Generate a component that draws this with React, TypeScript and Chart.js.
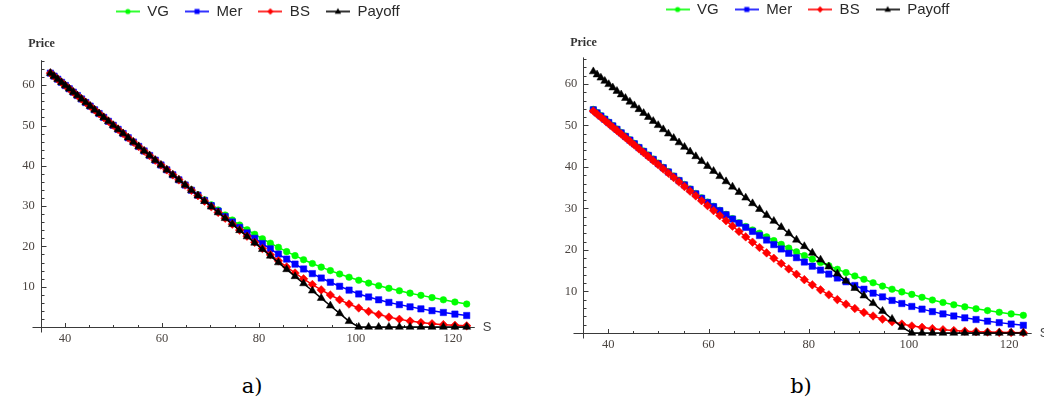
import React, { useEffect, useRef } from "react";
import { Chart, registerables } from "chart.js";

Chart.register(...registerables);

// Underlying prices S (common to both panels)
const S = [
  37.0, 37.75, 38.51, 39.29, 40.08, 40.89, 41.72, 42.56, 43.42, 44.3,
  45.19, 46.11, 47.04, 47.99, 48.96, 49.95, 50.96, 51.99, 53.04, 54.11,
  55.2, 56.32, 57.45, 58.61, 59.8, 61.0, 62.24, 63.49, 64.78, 66.08,
  67.42, 68.78, 70.17, 71.59, 73.03, 74.51, 76.01, 77.55, 79.12, 80.71,
  82.35, 84.01, 85.71, 87.44, 89.2, 91.01, 92.84, 94.72, 96.63, 98.58,
  100.57, 102.61, 104.68, 106.79, 108.95, 111.15, 113.39, 115.68, 118.02, 120.4,
  122.83,
];

// Put payoff (both panels)
const PAYOFF = [
  63.0, 62.25, 61.49, 60.71, 59.92, 59.11, 58.28, 57.44, 56.58, 55.7,
  54.81, 53.89, 52.96, 52.01, 51.04, 50.05, 49.04, 48.01, 46.96, 45.89,
  44.8, 43.68, 42.55, 41.39, 40.2, 39.0, 37.76, 36.51, 35.22, 33.92,
  32.58, 31.22, 29.83, 28.41, 26.97, 25.49, 23.99, 22.45, 20.88, 19.29,
  17.65, 15.99, 14.29, 12.56, 10.8, 8.99, 7.16, 5.28, 3.37, 1.42,
  0, 0, 0, 0, 0, 0, 0, 0, 0, 0,
  0,
];

// Panel a)
const VG_A = [
  63.0, 62.25, 61.49, 60.71, 59.92, 59.11, 58.28, 57.44, 56.58, 55.7,
  54.81, 53.89, 52.96, 52.01, 51.04, 50.05, 49.04, 48.01, 46.96, 45.89,
  44.8, 43.68, 42.55, 41.39, 40.2, 39.0, 37.76, 36.51, 35.3, 34.05,
  32.8, 31.55, 30.3, 29.05, 27.8, 26.55, 25.3, 24.15, 23.0, 21.9,
  20.8, 19.75, 18.7, 17.7, 16.7, 15.75, 14.85, 14.0, 13.15, 12.35,
  11.6, 10.9, 10.25, 9.6, 9.0, 8.4, 7.85, 7.3, 6.75, 6.2,
  5.7,
];
const MER_A = [
  63.0, 62.25, 61.49, 60.71, 59.92, 59.11, 58.28, 57.44, 56.58, 55.7,
  54.81, 53.89, 52.96, 52.01, 51.04, 50.05, 49.04, 48.01, 46.96, 45.89,
  44.8, 43.68, 42.55, 41.39, 40.2, 39.0, 37.76, 36.51, 35.22, 33.92,
  32.7, 31.4, 30.1, 28.75, 27.4, 26.05, 24.7, 23.35, 22.0, 20.7,
  19.4, 18.1, 16.85, 15.6, 14.4, 13.25, 12.15, 11.1, 10.1, 9.15,
  8.2, 7.45, 6.75, 6.1, 5.55, 5.0, 4.5, 4.05, 3.6, 3.2,
  2.85,
];
const BS_A = [
  63.0, 62.25, 61.49, 60.71, 59.92, 59.11, 58.28, 57.44, 56.58, 55.7,
  54.81, 53.89, 52.96, 52.01, 51.04, 50.05, 49.04, 48.01, 46.96, 45.89,
  44.8, 43.68, 42.55, 41.39, 40.2, 39.0, 37.76, 36.51, 35.22, 33.92,
  32.58, 31.23, 29.84, 28.43, 26.99, 25.52, 24.04, 22.53, 21.01, 19.49,
  17.94, 16.41, 14.9, 13.4, 11.95, 10.54, 9.21, 7.94, 6.77, 5.69,
  4.72, 3.85, 3.1, 2.45, 1.91, 1.46, 1.1, 0.81, 0.58, 0.42,
  0.29,
];

// Panel b)
const VG_B = [
  53.88, 53.13, 52.37, 51.59, 50.8, 49.99, 49.16, 48.32, 47.46, 46.58,
  45.69, 44.77, 43.84, 42.89, 41.92, 40.93, 39.92, 38.89, 37.84, 36.82,
  35.78, 34.71, 33.63, 32.57, 31.54, 30.54, 29.57, 28.59, 27.55, 26.56,
  25.66, 24.83, 24.05, 23.15, 22.25, 21.35, 20.45, 19.55, 18.65, 17.8,
  17.0, 16.2, 15.35, 14.55, 13.75, 12.95, 12.1, 11.3, 10.55, 9.9,
  9.3, 8.6, 7.95, 7.35, 6.8, 6.3, 5.85, 5.4, 5.0, 4.6,
  4.25,
];
const MER_B = [
  53.78, 53.03, 52.27, 51.49, 50.7, 49.89, 49.06, 48.22, 47.36, 46.48,
  45.59, 44.67, 43.74, 42.79, 41.82, 40.83, 39.82, 38.79, 37.74, 36.72,
  35.68, 34.61, 33.53, 32.47, 31.44, 30.44, 29.47, 28.49, 27.45, 26.46,
  25.46, 24.48, 23.5, 22.4, 21.3, 20.25, 19.2, 18.15, 17.1, 16.1,
  15.15, 14.2, 13.25, 12.35, 11.45, 10.55, 9.6, 8.7, 7.85, 7.1,
  6.4, 5.75, 5.15, 4.6, 4.1, 3.65, 3.25, 2.85, 2.5, 2.15,
  1.85,
];
const BS_B = [
  53.48, 52.73, 51.97, 51.19, 50.4, 49.59, 48.76, 47.92, 47.06, 46.18,
  45.29, 44.37, 43.44, 42.49, 41.52, 40.53, 39.52, 38.49, 37.44, 36.37,
  35.28, 34.16, 33.03, 31.87, 30.69, 29.49, 28.27, 27.04, 25.75, 24.46,
  23.16, 21.88, 20.6, 19.3, 18.0, 16.75, 15.45, 14.15, 12.85, 11.6,
  10.4, 9.2, 8.05, 6.95, 5.9, 4.95, 4.1, 3.35, 2.7, 2.15,
  1.7, 1.36, 1.05, 0.8, 0.6, 0.44, 0.32, 0.23, 0.16, 0.11,
  0.08,
];

const SERIES_NAMES = ["VG", "Mer", "BS", "Payoff"];
const X_TICKS = [40, 60, 80, 100, 120];
const Y_TICKS = [10, 20, 30, 40, 50, 60];

const COLORS = ["#00ff00", "#0000ff", "#ff0000", "#000000"];
const POINT_STYLES = ["circle", "rect", "rectRot", "triangle"];
const POINT_RADII = [3.3, 4.5, 4.3, 4.6];

const AXIS_COLOR = "#3a3a3a";
const TICK_COLOR = "#4a4440";

function makeIcon(color: string, style: string): HTMLCanvasElement {
  const c = document.createElement("canvas");
  c.width = 24;
  c.height = 10;
  const g = c.getContext("2d")!;
  g.strokeStyle = color;
  g.lineWidth = 1.6;
  g.beginPath();
  g.moveTo(0, 5);
  g.lineTo(24, 5);
  g.stroke();
  g.fillStyle = color;
  g.beginPath();
  const cx = 12;
  const cy = 5;
  if (style === "circle") {
    g.arc(cx, cy, 2.6, 0, Math.PI * 2);
  } else if (style === "rect") {
    g.rect(cx - 2.5, cy - 2.5, 5, 5);
  } else if (style === "rectRot") {
    g.moveTo(cx, cy - 3.2);
    g.lineTo(cx + 3.2, cy);
    g.lineTo(cx, cy + 3.2);
    g.lineTo(cx - 3.2, cy);
    g.closePath();
  } else {
    g.moveTo(cx, cy - 3.4);
    g.lineTo(cx + 3.2, cy + 2.2);
    g.lineTo(cx - 3.2, cy + 2.2);
    g.closePath();
  }
  g.fill();
  return c;
}

// Centre the legend over the plot area (as in the reference)
const legendCenterPlugin = {
  id: "legendOverPlot",
  afterLayout(chart: any) {
    const lg = chart.legend;
    if (lg) {
      lg.left = chart.chartArea.left;
      lg.right = chart.chartArea.right;
      lg.width = lg.right - lg.left;
    }
  },
};

const axisPlugin = {
  id: "mmaAxes",
  beforeDatasetsDraw(chart: any, _args: any, opts: any) {
    const { ctx } = chart;
    const xs = chart.scales.x;
    const ys = chart.scales.y;
    const x0 = Math.round(xs.getPixelForValue(35)) + 0.5;
    const y0 = Math.round(ys.getPixelForValue(0)) + 0.5;
    const yTop = ys.getPixelForValue(opts.yAxisTop);
    const xRight = xs.right;
    ctx.save();
    ctx.strokeStyle = AXIS_COLOR;
    ctx.lineWidth = 1;
    ctx.beginPath();
    ctx.moveTo(x0 - opts.overhang, y0);
    ctx.lineTo(xRight, y0);
    ctx.moveTo(x0, yTop);
    ctx.lineTo(x0, y0 + 5);
    // x ticks (major every 20, minor every 5)
    for (let v = 40; v <= 124; v += 5) {
      const px = Math.round(xs.getPixelForValue(v)) + 0.5;
      const len = v % 20 === 0 ? 4.5 : 2.5;
      ctx.moveTo(px, y0);
      ctx.lineTo(px, y0 - len);
    }
    // y ticks (major every 10, minor every 2)
    for (let v = 2; v <= opts.yAxisTop; v += 2) {
      const py = Math.round(ys.getPixelForValue(v)) + 0.5;
      const len = v % 10 === 0 ? 5 : 3;
      ctx.moveTo(x0, py);
      ctx.lineTo(x0 + len, py);
    }
    ctx.stroke();

    ctx.fillStyle = "#333";
    ctx.font = 'bold 12px "Liberation Serif"';
    ctx.textAlign = "center";
    ctx.textBaseline = "middle";
    ctx.fillText("Price", x0, yTop - opts.priceGap);

    ctx.font = '13px "Liberation Sans"';
    ctx.textAlign = "left";
    ctx.fillStyle = "#444";
    ctx.fillText("S", xRight + 8, y0);
    ctx.restore();
  },
};

type PanelCfg = {
  left: number;
  top: number;
  width: number;
  height: number;
  yWidth: number;
  padRight: number;
  xHeight: number;
  yMax: number;
  yAxisTop: number;
  priceGap: number;
  overhang: number;
  vg: number[];
  mer: number[];
  bs: number[];
};

function Panel({ cfg }: { cfg: PanelCfg }) {
  const ref = useRef<HTMLCanvasElement>(null);
  useEffect(() => {
    if (!ref.current) return;
    const series = [cfg.vg, cfg.mer, cfg.bs, PAYOFF];
    const icons = series.map((_, i) => makeIcon(COLORS[i], POINT_STYLES[i]));
    const tickFont = { family: '"Liberation Serif"', size: 12.5 };
    const chart = new Chart(ref.current, {
      type: "line",
      data: {
        datasets: series.map((vals, i) => ({
          label: SERIES_NAMES[i],
          data: S.map((s, k) => ({ x: s, y: vals[k] })),
          borderColor: COLORS[i],
          backgroundColor: COLORS[i],
          borderWidth: 1.5,
          pointStyle: POINT_STYLES[i] as any,
          pointRadius: POINT_RADII[i],
          pointBackgroundColor: COLORS[i],
          pointBorderColor: COLORS[i],
          pointBorderWidth: 0.5,
          tension: 0,
          order: 3 - i,
          clip: false as any,
        })),
      },
      options: {
        responsive: false,
        animation: false,
        events: [],
        layout: {
          padding: { left: 0, right: cfg.padRight, top: 0, bottom: 0 },
        },
        plugins: {
          legend: {
            display: true,
            position: "top",
            labels: {
              usePointStyle: true,
              pointStyleWidth: 24,
              padding: 16,
              color: "#2a2a2a",
              font: { family: '"Liberation Sans"', size: 15 },
              generateLabels: (ch: any) => {
                const items = (Chart.defaults.plugins.legend.labels as any).generateLabels(ch);
                return items
                  .map((it: any) => ({ ...it, pointStyle: icons[it.datasetIndex], lineWidth: 0 }))
                  .sort((a: any, b: any) => a.datasetIndex - b.datasetIndex);
              },
            },
          },
          tooltip: { enabled: false },
          mmaAxes: {
            yAxisTop: cfg.yAxisTop,
            priceGap: cfg.priceGap,
            overhang: cfg.overhang,
          },
        } as any,
        scales: {
          x: {
            type: "linear",
            min: 35,
            max: 124.5,
            grid: { display: false, drawTicks: false },
            border: { display: false },
            ticks: {
              includeBounds: false,
              padding: 4,
              color: TICK_COLOR,
              font: tickFont,
              maxRotation: 0,
            },
            afterBuildTicks: (s: any) => {
              s.ticks = X_TICKS.map((v) => ({ value: v }));
            },
            afterFit: (s: any) => {
              s.height = cfg.xHeight;
            },
          },
          y: {
            type: "linear",
            min: 0,
            max: cfg.yMax,
            grid: { display: false, drawTicks: false },
            border: { display: false },
            ticks: {
              includeBounds: false,
              padding: 6,
              color: TICK_COLOR,
              font: tickFont,
            },
            afterBuildTicks: (s: any) => {
              s.ticks = Y_TICKS.map((v) => ({ value: v }));
            },
            afterFit: (s: any) => {
              s.width = cfg.yWidth;
            },
          },
        },
      } as any,
      plugins: [legendCenterPlugin as any, axisPlugin as any],
    });
    return () => chart.destroy();
  }, [cfg]);
  return (
    <canvas
      ref={ref}
      width={cfg.width}
      height={cfg.height}
      style={{
        position: "absolute",
        left: cfg.left,
        top: cfg.top,
        width: cfg.width,
        height: cfg.height,
      }}
    />
  );
}

const PANEL_A: PanelCfg = {
  left: 0,
  top: -12,
  width: 520,
  height: 370,
  yWidth: 40.7,
  padRight: 45.2,
  xHeight: 31,
  yMax: 73.95,
  yAxisTop: 66.2,
  priceGap: 16,
  overhang: 9,
  vg: VG_A,
  mer: MER_A,
  bs: BS_A,
};

const PANEL_B: PanelCfg = {
  left: 530,
  top: -14,
  width: 514,
  height: 372,
  yWidth: 53.3,
  padRight: 12.3,
  xHeight: 25,
  yMax: 73.73,
  yAxisTop: 66.4,
  priceGap: 15,
  overhang: 10,
  vg: VG_B,
  mer: MER_B,
  bs: BS_B,
};

const captionStyle: React.CSSProperties = {
  position: "absolute",
  top: 373,
  width: 60,
  textAlign: "center",
  fontFamily: '"DejaVu Serif"',
  fontSize: 21,
  lineHeight: "26px",
  color: "#000",
};

export default function App() {
  return (
    <div
      style={{
        position: "fixed",
        left: 0,
        top: 0,
        width: 1044,
        height: 406,
        background: "#fff",
        overflow: "hidden",
      }}
    >
      <Panel cfg={PANEL_A} />
      <Panel cfg={PANEL_B} />
      <div style={{ ...captionStyle, left: 252 - 30 }}>a)</div>
      <div style={{ ...captionStyle, left: 801 - 30 }}>b)</div>
    </div>
  );
}
